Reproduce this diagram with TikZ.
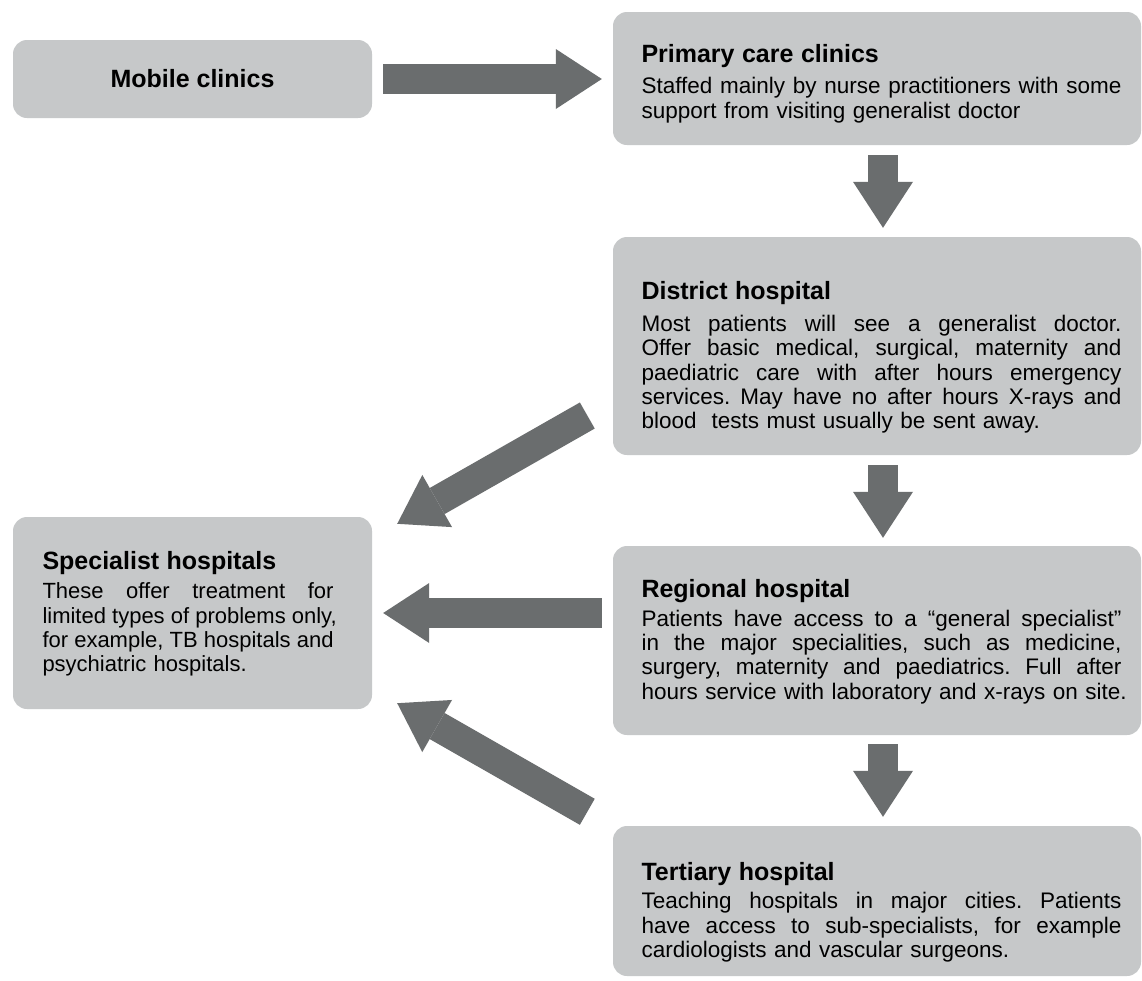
\documentclass[tikz,border=0pt]{standalone}
\usepackage{fontspec}
\setmainfont{Liberation Sans}
\usetikzlibrary{arrows.meta}
\definecolor{boxgray}{HTML}{C6C8C9}
\definecolor{arrgray}{HTML}{6A6D6E}
\newdimen\jw
\newdimen\lpad
\newdimen\tgap
\newcommand{\jl}[1]{\hbox{\hskip\lpad\hbox to \jw{\spaceskip=\fontdimen2\font plus 1fil\relax\xspaceskip=\spaceskip #1}}}
\newcommand{\nl}[1]{\hbox{\hskip\lpad #1}}
\newcommand{\ttl}[1]{\hbox{\hskip\lpad\fontsize{25}{29}\selectfont\bfseries #1}\vskip\tgap}
\newcommand{\startbox}[4]{\par\nointerlineskip\jw=#1\relax\lpad=#2\relax\tgap=#4\relax\vskip#3\relax}
\tikzset{
  box/.style={fill=boxgray, rounded corners=14pt, inner sep=0pt, font=\fontsize{22.5}{24.3}\selectfont\frenchspacing},
  textbox/.style={box, text width=489pt, minimum width=528pt},
  fat/.style={draw=arrgray, line width=30pt, -{Triangle[length=46pt, width=60pt, line width=0pt]}}
}
\begin{document}
\begin{tikzpicture}[x=1pt, y=-1pt]
\fill[white] (0,0) rectangle (1142,980);
\useasboundingbox (0,0) rectangle (1142,980);

\node[box, minimum width=359pt, minimum height=78pt, font=\fontsize{25}{29}\selectfont\bfseries] (mobile) at (192.5,79) {Mobile clinics};

\node[textbox, minimum height=133pt] (primary) at (877,78.5) {%
\startbox{480pt}{9pt}{10pt}{7.5pt}%
\ttl{Primary care clinics}
\jl{Staffed mainly by nurse practitioners with some}
\nl{support from visiting generalist doctor}};

\node[textbox, minimum height=218pt] (district) at (877,346) {%
\startbox{480pt}{9pt}{23pt}{7.5pt}%
\ttl{District hospital}
\jl{Most patients will see a generalist doctor.}
\jl{Offer basic medical, surgical, maternity and}
\jl{paediatric care with after hours emergency}
\jl{services. May have no after hours X-rays and}
\nl{blood~ tests must usually be sent away.}};

\node[textbox, minimum height=189pt] (regional) at (877,640.5) {%
\startbox{480pt}{9pt}{2pt}{4.5pt}%
\ttl{Regional hospital}
\jl{Patients have access to a “general specialist”}
\jl{in the major specialities, such as medicine,}
\jl{surgery, maternity and paediatrics. Full after}
\nl{hours service with laboratory and x-rays on site.}};

\node[textbox, minimum height=150pt] (tertiary) at (877,901) {%
\startbox{480pt}{9pt}{22pt}{4.5pt}%
\ttl{Tertiary hospital}
\jl{Teaching hospitals in major cities. Patients}
\jl{have access to sub-specialists, for example}
\nl{cardiologists and vascular surgeons.}};

\node[box, text width=300pt, minimum width=359pt, minimum height=192pt, font=\fontsize{22}{24.3}\selectfont\frenchspacing] (specialist) at (192.5,613) {%
\startbox{291pt}{0pt}{2pt}{4.5pt}%
\ttl{Specialist hospitals}
\jl{These offer treatment for}
\jl{limited types of problems only,}
\jl{for example, TB hospitals and}
\nl{psychiatric hospitals.}};

\draw[fat, shorten <=11pt, shorten >=11pt] (mobile.east) -- (mobile.east -| primary.west);
\draw[fat, shorten <=10pt, shorten >=9pt] ([shift={(6,0)}]primary.south) -- ([shift={(6,0)}]district.north);
\draw[fat, shorten <=10pt, shorten >=8pt] ([shift={(6,0)}]district.south) -- ([shift={(6,0)}]regional.north);
\draw[fat, shorten <=9pt, shorten >=9pt] ([shift={(6,0)}]regional.south) -- ([shift={(6,0)}]tertiary.north);
\draw[fat, shorten <=11pt, shorten >=11pt] (regional.west |- specialist.east) -- (specialist.east);
\draw[fat] ([shift={(-25.5,69.5)}]district.west) -- ([shift={(25,7)}]specialist.north east);
\draw[fat] ([shift={(-25.5,-14)}]tertiary.north west) -- ([shift={(25,-6)}]specialist.south east);
\end{tikzpicture}
\end{document}
